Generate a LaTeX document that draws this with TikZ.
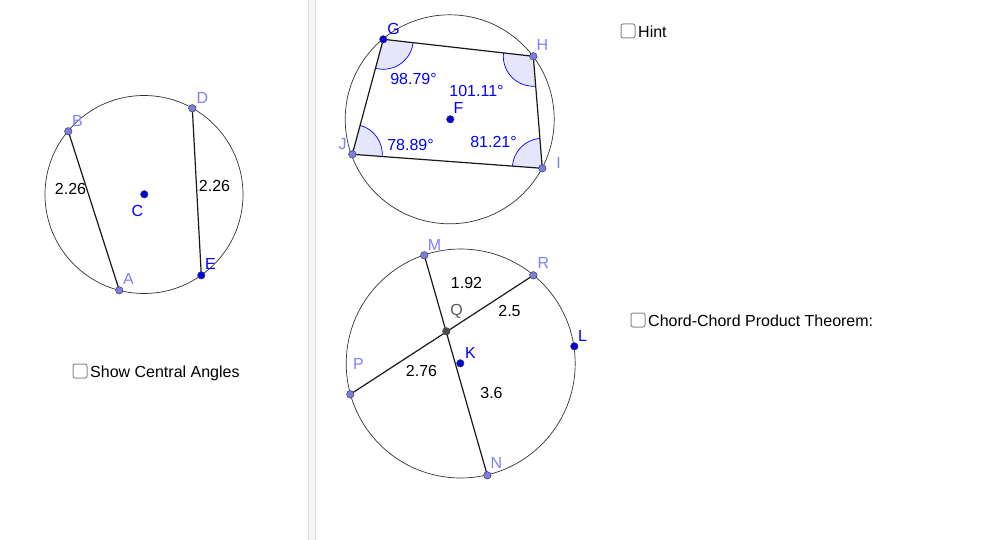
\documentclass[tikz,border=0pt]{standalone}
\usepackage{fontspec}
\setmainfont{Liberation Sans}
\usetikzlibrary{angles,backgrounds}
\definecolor{ptlight}{HTML}{7D7DE8}
\definecolor{lbllight}{HTML}{8080FF}
\definecolor{ptblue}{HTML}{0000E6}
\definecolor{lblblue}{HTML}{0000FF}
\definecolor{angfill}{HTML}{E5E5FB}
\definecolor{sepfill}{HTML}{F6F6F6}
\definecolor{sepline}{HTML}{DDDDDD}
\tikzset{
  txt/.style={font=\fontsize{16}{18}\selectfont,inner sep=0pt},
  lbllt/.style={txt,text=lbllight},
  lblbl/.style={txt,text=lblblue},
  lblq/.style={txt,text=black!65},
  val/.style={txt,text=black},
  angval/.style={txt,text=lblblue},
  ptbase/.style={circle,inner sep=0pt,minimum size=7.5pt,draw=black!75,line width=0.5pt},
  ptlt/.style={ptbase,fill=ptlight},
  ptbl/.style={ptbase,fill=ptblue},
  ptq/.style={ptbase,fill=black!70},
  bigcirc/.style={circle,inner sep=0pt,draw=black!80,line width=0.7pt},
  chord/.style={draw=black!90,line width=1.2pt},
  chk/.style={draw=black!45,fill=white,rounded corners=2pt,line width=1pt,minimum size=14pt,inner sep=0pt},
  capt/.style={txt,anchor=base west,text=black},
  ang/.style={draw=lblblue,fill=angfill,line width=0.7pt,angle radius=30pt,angle eccentricity=1}
}
\begin{document}
\begin{tikzpicture}[x=1pt,y=-1pt]
\useasboundingbox (0,0) rectangle (1000,540);

% circles
\node[bigcirc,minimum size=198pt] (c1) at (144,194.5) {};
\node[bigcirc,minimum size=209pt] (c2) at (449.7,119.3) {};
\node[bigcirc,minimum size=229pt] (c3) at (460.7,363.5) {};

% points
\node[ptlt] (B) at (68.3,131.3) {};
\node[ptlt] (A) at (119.3,290.3) {};
\node[ptlt] (D) at (192.3,108.3) {};
\node[ptbl] (E) at (201.3,275.3) {};
\node[ptbl] (C) at (144.3,194.3) {};
\node[ptbl] (G) at (383.3,39.3) {};
\node[ptlt] (H) at (533.3,56.3) {};
\node[ptlt] (I) at (542.3,168.3) {};
\node[ptlt] (J) at (352.3,154.3) {};
\node[ptbl] (F) at (450.3,119.3) {};
\node[ptlt] (M) at (424.3,255.3) {};
\node[ptlt] (R) at (533.3,275.3) {};
\node[ptbl] (L) at (574.3,346.3) {};
\node[ptlt] (N) at (487.3,475.3) {};
\node[ptlt] (P) at (350.3,394.3) {};
\node[ptq] (Q) at (446.3,331.3) {};
\node[ptbl] (K) at (460.3,363.3) {};

\begin{scope}[on background layer]
  \fill[white] (0,0) rectangle (1000,540);
  \fill[sepfill] (308.5,0) rectangle (315.5,540);
  \draw[sepline,line width=1pt] (308.5,0) -- (308.5,540) (315.5,0) -- (315.5,540);
  \pic[ang] {angle=J--G--H};
  \pic[ang] {angle=G--H--I};
  \pic[ang] {angle=H--I--J};
  \pic[ang] {angle=I--J--G};
  \draw[chord] (B.center) -- (A.center);
  \draw[chord] (D.center) -- (E.center);
  \draw[chord] (G.center) -- (H.center);
  \draw[chord] (H.center) -- (I.center);
  \draw[chord] (I.center) -- (J.center);
  \draw[chord] (J.center) -- (G.center);
  \draw[chord] (M.center) -- (N.center);
  \draw[chord] (P.center) -- (R.center);
\end{scope}

% point labels
\node[lbllt] (lB) at (77.5,120.5) {B};
\node[lbllt] (lD) at (202.5,97.5) {D};
\node[lbllt] (lA) at (128.5,278.5) {A};
\node[lblbl] (lE) at (210.5,263.5) {E};
\node[lblbl] (lC) at (137.5,210.5) {C};
\node[lblbl] (lG) at (393.5,28.5) {G};
\node[lbllt] (lH) at (542.5,44.5) {H};
\node[lbllt] (lI) at (558.5,162.5) {I};
\node[lbllt] (lJ) at (342.5,144.5) {J};
\node[lblbl] (lF) at (458.5,107.5) {F};
\node[lbllt] (lM) at (434.5,244.5) {M};
\node[lbllt] (lR) at (543.5,262.5) {R};
\node[lblbl] (lL) at (582.5,335.5) {L};
\node[lbllt] (lN) at (496.5,462.5) {N};
\node[lbllt] (lP) at (358.5,363.5) {P};
\node[lblq] (lQ) at (456.5,311.5) {Q};
\node[lblbl] (lK) at (470.5,352.5) {K};

% values
\node[val] (v1) at (70.5,188.5) {2.26};
\node[val] (v2) at (214.5,185.5) {2.26};
\node[angval] (a1) at (413.5,78.5) {98.79°};
\node[angval] (a2) at (476.5,90.5) {101.11°};
\node[angval] (a3) at (410.5,144.5) {78.89°};
\node[angval] (a4) at (493.5,141.5) {81.21°};
\node[val] (v3) at (466.5,282.5) {1.92};
\node[val] (v4) at (509.5,310.5) {2.5};
\node[val] (v5) at (421.5,370.5) {2.76};
\node[val] (v6) at (491.5,392.5) {3.6};

% checkboxes
\node[chk] (cb1) at (80,371) {};
\node[capt] (t1) at (90,377.5) {Show Central Angles};
\node[chk] (cb2) at (628,31) {};
\node[capt] (t2) at (638,37.5) {Hint};
\node[chk] (cb3) at (638,320) {};
\node[capt] (t3) at (648,326.5) {Chord-Chord Product Theorem:};
\end{tikzpicture}
\end{document}
